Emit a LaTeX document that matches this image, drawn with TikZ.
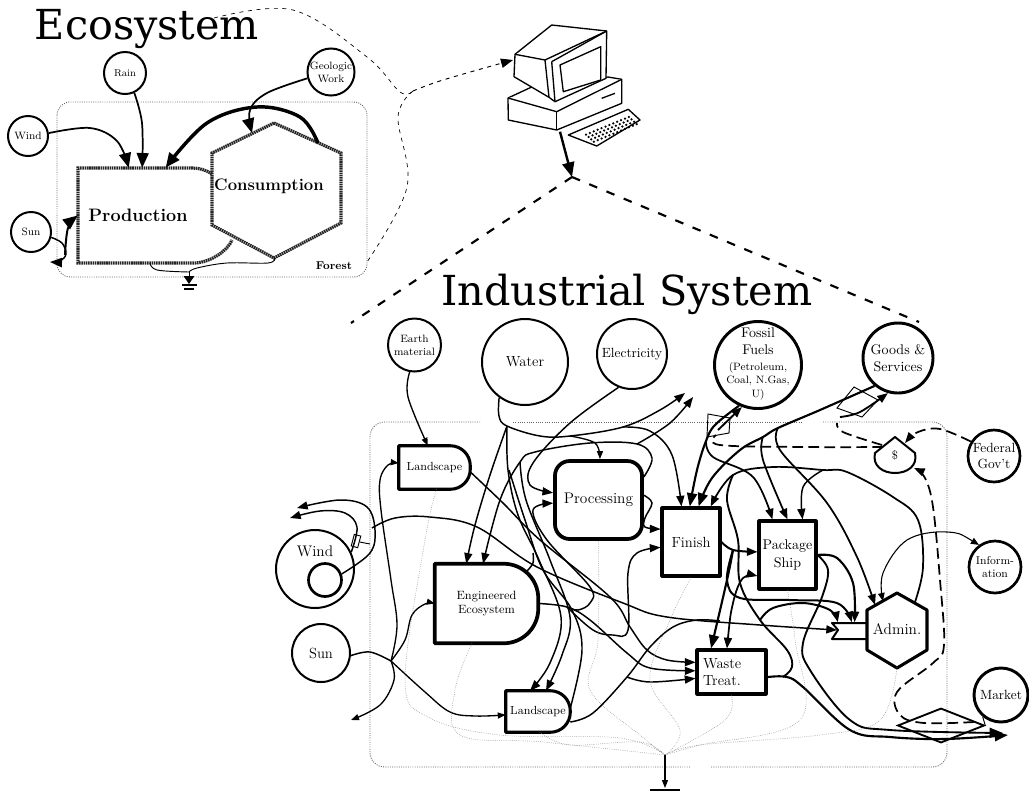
\documentclass[tikz,border=0pt]{standalone}
\usepackage{fontspec}
\newfontfamily\titlefont{DejaVu Serif}
\usetikzlibrary{arrows.meta,shapes.geometric}
\tikzset{
  sz/.style={font=\fontsize{#1}{\fpeval{#1*1.22}}\selectfont},
  bub/.style={circle,draw,line width=1.5pt,inner sep=0pt,align=center,minimum size=#1*0.75pt},
  unitbox/.style 2 args={rectangle,inner sep=0pt,align=center,minimum width=#1*0.75pt,minimum height=#2*0.75pt},
  unitline/.style={line width=2.3pt,line join=round},
  roughline/.style={line width=2.4pt,dash pattern=on 1.2pt off 0.5pt,black!85},
  forestframe/.style={black!60,line width=0.7pt,densely dotted,rounded corners=10pt},
  plantframe/.style={black!60,line width=0.7pt,densely dotted,rounded corners=11pt},
  heatline/.style={black!50,line width=0.4pt,densely dotted},
  flow/.style={line width=1.1pt,-{Triangle[length=8pt,width=6pt]}},
  ecoflow/.style={line width=1.3pt,-{Triangle[length=11pt,width=9pt]}},
  flowplain/.style={line width=1.1pt},
  thickflow/.style={line width=1.6pt,-{Triangle[length=10pt,width=7.5pt]}},
  thinflow/.style={line width=1pt,-{Triangle[length=6pt,width=4.5pt]}},
  money/.style={line width=1.3pt,dash pattern=on 8pt off 4pt,-{Triangle[length=8pt,width=6pt]}},
  linkdash/.style={line width=0.5pt,dash pattern=on 3pt off 3.5pt},
  zoomdash/.style={line width=1.6pt,dash pattern=on 6.5pt off 7.5pt},
  valve/.style={draw,line width=0.7pt},
  pcline/.style={line width=1pt,fill=white,line join=round}
}
\begin{document}
\begin{tikzpicture}[x=0.75pt,y=0.75pt,yscale=-1,every plot/.style={smooth,tension=0.6}]
\useasboundingbox (0,0) rectangle (1029,794);

% Text Node
\node[font=\titlefont\fontsize{31}{36}\selectfont] (ecotitle) at (147,29) {Ecosystem};
\node[font=\titlefont\fontsize{31}{36}\selectfont] (indtitle) at (627,294) {Industrial System};
% Ecosystem, frame and parts
\draw[forestframe] (57,102) rectangle (367,277);
\node[bub=42,sz=7.5] (rain) at (125,73) {Rain};
\node[bub=40,sz=8] (wind) at (28,136) {Wind};
\node[bub=40,sz=8] (sun) at (31,232) {Sun};
\node[bub=46,sz=8] (geo) at (331,72) {Geologic\\Work};
\node[unitbox={120}{95},font=\fontsize{13.5}{16}\selectfont\bfseries] (prod) at (138,215.5) {Production};
\node[unitbox={120}{60},font=\fontsize{12.5}{15}\selectfont\bfseries] (cons) at (269,186) {Consumption};
\node[font=\fontsize{8.5}{10}\selectfont\bfseries] (forest) at (334,266) {Forest};
%Shape: Production
\draw[roughline] (212,174) .. controls (206,170) and (200,168) .. (190,168) -- (78,168) -- (78,263) -- (195,263) .. controls (212,262) and (228,250) .. (232,240);
%Shape: Hexagon
\draw[roughline] (274,123) -- (341,153) -- (341,223) -- (274,258) -- (212,225) -- (212,153) -- cycle;
\coordinate (consin) at (252,133);
\coordinate (consout) at (318,143);
\coordinate (ecojoin) at (189,272);
\coordinate (ecoend) at (189,284);
%Curved Lines
\draw[ecoflow] plot coordinates {(wind.8) (90,128) (117,141) (prod.101)};
\draw[ecoflow] plot coordinates {(rain.-65) (142,123) (prod.85)};
\draw[ecoflow] plot coordinates {(geo.195) (267,93) (250,110) (consin)};
\draw[line width=2.6pt,-{Triangle[length=11pt,width=9pt]}] plot coordinates {(consout) (300,117) (257,107) (207,123) (prod.60)};
\draw[flow,-{Triangle[length=9pt,width=7pt]}] plot coordinates {(sun.-15) (62,243) (66,254) (60,261) (50,262)};
\draw[ecoflow,line width=1.5pt] plot coordinates {(65,255) (68,228) (prod.west)};
\draw[line width=0.7pt] plot coordinates {(150,263) (157,270) (ecojoin)};
\draw[line width=0.7pt] plot coordinates {(275,258) (268,263) (227,263) (197,268) (ecojoin)};
\draw[line width=0.7pt,-{Triangle[length=6pt,width=8pt]}] (ecojoin) -- (ecoend);
\draw[line width=1.5pt] (182,285) -- (197,285);
\draw[line width=1.5pt] (184,289) -- (194,289);

% Links to the computer
\coordinate (linkstart) at (214,18);
\coordinate (linkjoin) at (413,91);
\coordinate (pcin) at (513,60);
\coordinate (apex) at (572,177);
\coordinate (zoomleft) at (351,323);
\coordinate (zoomright) at (919,322);
\draw[linkdash] plot coordinates {(linkstart) (293,10) (367,57) (400,92) (linkjoin)};
\draw[linkdash] plot coordinates {(linkjoin) (398,117) (407,187) (367,262)};
\draw[linkdash,line width=0.7pt,-{Triangle[length=9pt,width=7pt]}] plot coordinates {(linkjoin) (443,80) (pcin)};
\draw[zoomdash] (apex) -- (zoomleft);
\draw[zoomdash] (apex) -- (zoomright);

%Shape: Computer
\draw[pcline] (508,98) -- (531.7,87) -- (608,77) -- (621.7,79.3) -- (621.7,103.3) -- (556.7,130) -- (508.3,120) -- cycle;
\draw[pcline] (508,98) -- (556.7,111.7) -- (621.7,79.3);
\draw[pcline] (556.7,111.7) -- (556.7,130);
\draw[line width=1pt] (601.7,98.3) -- (615,93.3);
\draw[pcline] (515,54.3) -- (551.7,25) -- (606.7,31) -- (606,78.3) -- (555,101.7) -- (549,97.3) -- (514,76.7) -- cycle;
\draw[pcline] (515,54.3) -- (545,60) -- (606.7,31);
\draw[pcline] (545,60) -- (549,97.3);
\draw[pcline] (551.7,61.7) -- (606.7,31);
\draw[pcline] (551.7,61.7) -- (555,101.7);
\draw[pcline] (560,65) -- (600.7,46.7) -- (600.7,80) -- (563.3,91.7) -- cycle;
\draw[pcline] (568.3,135) -- (628.3,109.3) -- (640,120) -- (596.7,146) -- cycle;
\foreach \i in {0,...,11}
  \foreach \j in {0,...,3}
    \fill ({586+\i*3.9+\j*2.6},{134.5-\i*1.6+\j*2.4}) circle [radius=1.25];
\draw[line width=1.8pt,-{Triangle[length=11pt,width=9pt]}] (560,131.7) -- (apex);

% Industrial plant frame
\draw[plantframe] (513,422) -- (803,422);
\draw[plantframe] (823,422) -- (947,422) -- (947,767) -- (710,767);
\draw[plantframe] (690,767) -- (370,767) -- (370,422) -- (480,422);

% Text Node
\node[bub=53,sz=8] (earth) at (414.5,345) {Earth\\material};
\node[bub=86,sz=11] (water) at (525,362) {Water};
\node[bub=70,sz=10] (elec) at (632,354) {Electricity};
\node[bub=87,line width=2.2pt] (fossil) at (758,365) {};
\node[align=center,inner sep=0pt,font=\fontsize{10.5}{12.75}\selectfont] (fossiltext) at (758,364) {Fossil\\Fuels\\[-1pt]{\fontsize{8}{9.75}\selectfont(Petroleum,}\\[-2.5pt]{\fontsize{8}{9.75}\selectfont Coal, N.Gas,}\\[-2.5pt]{\fontsize{8}{9.75}\selectfont U)}};
\node[bub=70,line width=2.2pt,sz=10.5] (goods) at (898,358) {Goods \&\\Services};
\node[bub=52,line width=2pt,sz=10] (federal) at (994,456) {Federal\\Gov't};
\node[bub=52,line width=2pt,sz=8.5] (info) at (995,567) {Inform-\\ation};
\node[bub=54,line width=2.2pt,sz=10] (market) at (1001,695) {Market};
\node[bub=78,sz=11.5,text depth=26pt] (windb) at (315,569) {Wind};
\node[bub=33,line width=2pt] (windc) at (325,580) {};
\node[bub=58,sz=11] (sunb) at (321,653) {Sun};
\node[unitbox={71}{43},sz=8.8] (landa) at (434.5,467.5) {Landscape};
\node[unitbox={103}{79},sz=9] (enga) at (486.5,603.5) {Engineered\\Ecosystem};
\node[unitbox={64}{41},sz=8.8] (landb) at (538,711.5) {Landscape};
\node[unitbox={87}{78},draw,line width=2.8pt,rounded corners=11pt,sz=11.5] (proc) at (598.5,500) {Processing};
\node[unitbox={58}{68},draw,unitline,sz=11] (finish) at (691,542) {Finish};
\node[unitbox={57}{68},draw,unitline,sz=10.5] (pack) at (787.5,555) {Package\\Ship};
\node[rectangle,draw,unitline,inner ysep=0pt,inner xsep=4.5pt,text width=42.75pt,minimum height=33pt,align=left,sz=11] (waste) at (731.5,672) {Waste\\Treat.};
\node[unitbox={60}{76},sz=11.5] (admin) at (897,629) {Admin.};
\node[unitbox={35}{17}] (notch) at (849.5,631) {};
\node[unitbox={40}{36},sz=9] (dollar) at (895,455) {\$};
\node[diamond,draw,line width=1.4pt,inner sep=0pt,minimum width=65pt,minimum height=26pt,aspect=2.5] (marketd) at (941,725.5) {};
\node[valve,rectangle,rotate=-15,inner sep=0pt,minimum width=5pt,minimum height=9pt] (windvalve) at (356,541) {};

%Shape: unit outlines
\draw[unitline] (landa.north west) [rounded corners=15pt] -- (landa.north east) -- (landa.south east) [sharp corners] -- (landa.south west) -- cycle;
\draw[line width=2.8pt,line join=round] (enga.north west) [rounded corners=26pt] -- (enga.north east) -- (enga.south east) [sharp corners] -- (enga.south west) -- cycle;
\draw[unitline] (landb.north west) [rounded corners=15pt] -- (landb.north east) -- (landb.south east) [sharp corners] -- (landb.south west) -- cycle;
\draw[unitline] (897,593) -- (927,610) -- (927,650) -- (897,668) -- (867,650) -- (867,610) -- cycle;
\draw[line width=1.5pt,line join=round] (867,623) -- (832,623) -- (838,630) -- (832,639) -- (867,639);
\draw[line width=1.5pt,line join=round] (895,437) -- (915,453) .. controls (918,466) and (907,473) .. (895,473) .. controls (883,473) and (872,466) .. (875,453) -- cycle;
\draw[valve] (708,414) -- (730,418) -- (729,433) -- (707,437) -- cycle;
\draw[valve] (854,387) -- (878,400) -- (862,417) -- (837,408) -- cycle;

% Named ends
\coordinate (sunjoin) at (391,661);
\coordinate (sunout) at (351,720);
\coordinate (windouta) at (297,508);
\coordinate (windoutb) at (290,518);
\coordinate (windjoin) at (372,528);
\coordinate (notchin) at (837,630);
\coordinate (waterjoina) at (507,426);
\coordinate (waterjoinb) at (570,436);
\coordinate (waterjoinc) at (623,427);
\coordinate (wateroutb) at (685,393);
\coordinate (procjoin) at (637,444);
\coordinate (procouta) at (693,397);
\coordinate (procjoinb) at (520,462);
\coordinate (engjoin) at (567,607);
\coordinate (landjoin) at (627,677);
\coordinate (finjoin) at (733,550);
\coordinate (fossjoin) at (706,441);
\coordinate (goodjoina) at (778,428);
\coordinate (goodjoinb) at (763,437);
\coordinate (adminjoin) at (823,470);
\coordinate (adminjoinb) at (733,475);
\coordinate (adminout) at (915,602);
\coordinate (adminin) at (875,605);
\coordinate (admininb) at (883,601);
\coordinate (fossvalve) at (718,430);
\coordinate (goodsvalve) at (840,417);
\coordinate (wasteouta) at (1008,735);
\coordinate (packout) at (1003,733);
\coordinate (moneyfed) at (905,443);
\coordinate (moneyleft) at (883,447);
\coordinate (moneyup) at (882,445);
\coordinate (moneyin) at (914,468);
\coordinate (moneystart) at (974,722);
\coordinate (heatjoin) at (665,755);
\coordinate (heatend) at (665,788);

%Curved Lines: sun and wind
\draw[flowplain] plot coordinates {(sunb.-5) (370,652) (sunjoin)};
\draw[thinflow] plot coordinates {(sunjoin) (405,640) (412,615) (425,604) (enga.west)};
\draw[thinflow] plot coordinates {(sunjoin) (397,625) (391,580) (381,510) (380,480) (388,465) (landa.173)};
\draw[thinflow] plot coordinates {(sunjoin) (425,692) (450,712) (475,716) (landb.186)};
\draw[thinflow] plot coordinates {(sunjoin) (394,680) (380,705) (sunout)};
\draw[flow] plot coordinates {(windc.20) (370,553) (375,530) (367,507) (340,500) (windouta)};
\draw[flow] plot coordinates {(windb.25) (357,527) (345,513) (320,511) (windoutb)};
\draw[line width=0.7pt] (windvalve.east) -- (370,544);
\draw[flow] plot coordinates {(windjoin) (395,518) (430,517) (477,527) (537,567) (623,603) (667,617) (760,625) (notchin)};

%Curved Lines: earth and water
\draw[thinflow] plot coordinates {(earth.-100) (408,397) (landa.107)};
\draw[flow] plot coordinates {(landa.-7) (503,503) (540,540) (610,597) (630,627) (647,650) (667,660) (waste.165)};
\draw[flow] plot coordinates {(water.-126) (499,416) (waterjoina) (540,436) (waterjoinb) (waterjoinc) (660,410) (wateroutb)};
\draw[thinflow] plot coordinates {(waterjoinb) (595,443) (proc.88)};
\draw[flow] plot coordinates {(waterjoinc) (650,431) (672,455) (finish.105)};
\draw[flow] plot coordinates {(waterjoina) (490,475) (475,525) (enga.117)};
\draw[flow] plot coordinates {(waterjoina) (508,470) (518,515) (539,560) (561,617) (550,663) (landb.111)};
\draw[flow] plot coordinates {(procjoinb) (526,500) (550,560) (570,617) (562,655) (landb.69)};
\draw[flowplain] plot coordinates {(509,470) (525,520) (543,570) (572,610) (582,650) (landb.6)};
\draw[flowplain] plot coordinates {(533,553) (533,563) (527,571)};
\draw[flow] plot coordinates {(proc.27) (652,458) (procjoin) (590,443) (535,452) (procjoinb) (500,500) (enga.95)};
\draw[flow] plot coordinates {(procjoin) (670,423) (procouta)};
\draw[flow] plot coordinates {(elec.-112) (570,423) (533,463) (530,485) (proc.171)};
\draw[flow] plot coordinates {(engjoin) (578,610) (590,603) (590,587) (547,540) (533,510) (proc.184)};
\draw[flow] plot coordinates {(enga.east) (engjoin) (590,620) (627,653) (650,668) (waste.178)};
\draw[flow] plot coordinates {(engjoin) (593,630) (613,635) (628,630) (628,573) (637,553) (finish.190)};
\draw[flow] plot coordinates {(proc.6) (652,503) (645,518) (645,527) (finish.157)};

%Curved Lines: landscape, finish, package
\draw[flowplain] plot coordinates {(landb.-18) (593,713) (landjoin) (650,647) (673,627) (697,620) (720,621)};
\draw[flow] plot coordinates {(landjoin) (650,682) (waste.190)};
\draw[flow,line width=1.5pt] plot coordinates {(760,620) (773,608) (803,603) (830,610) (notch.143)};
\draw[flow,line width=1.5pt] plot coordinates {(finish.east) (finjoin) (pack.174)};
\draw[flow,line width=1.5pt] plot coordinates {(finjoin) (727,580) (740,598) (790,600) (837,603) (notch.75)};
\draw[thickflow] plot coordinates {(finjoin) (727,580) (waste.131)};
\draw[{Triangle[length=8pt,width=6pt]}-{Triangle[length=8pt,width=6pt]},line width=1.3pt] plot coordinates {(waste.101) (733,603) (743,578) (pack.215)};
\draw[line width=1.4pt] plot coordinates {(adminjoinb) (727,500) (738,540) (740,583) (760,620) (787,650) (792,667) (783,677)};
\draw[thickflow] plot coordinates {(waste.-8) (787,677) (803,687) (850,730) (890,737) (945,739) (wasteouta)};
\draw[thickflow,line width=1.4pt] plot coordinates {(pack.east) (828,570) (822,597) (803,643) (810,670) (850,720) (890,730) (packout)};
\draw[flow,line width=1.6pt] plot coordinates {(pack.east) (837,558) (853,583) (notch.60)};

%Curved Lines: fuels, goods, admin
\draw[thickflow] plot coordinates {(fossil.-115) (715,425) (fossjoin) (697,470) (finish.92)};
\draw[thickflow] plot coordinates {(goods.-130) (820,410) (goodjoina) (goodjoinb) (740,450) (712,478) (finish.78)};
\draw[flow,line width=1.3pt] plot coordinates {(adminout) (923,567) (918,520) (893,497) (847,472) (adminjoin) (773,467) (adminjoinb) (finish.61)};
\draw[flow] plot coordinates {(adminjoin) (803,487) (pack.67)};
\draw[flow,line width=1.3pt] plot coordinates {(fossjoin) (713,457) (753,477) (pack.113)};
\draw[flow,line width=1.3pt] plot coordinates {(goodjoinb) (763,460) (pack.90)};
\draw[flow,line width=1.3pt] plot coordinates {(goodjoina) (780,450) (827,503) (857,557) (adminin)};
\draw[{Triangle[length=6pt,width=5pt]}-{Triangle[length=6pt,width=5pt]},line width=0.8pt] plot coordinates {(info.126) (947,532) (907,540) (883,573) (admininb)};
\draw[flow,line width=1.4pt] (fossvalve) -- (fossil.-111);
\draw[flow,line width=1.4pt] plot coordinates {(goodsvalve) (860,412) (goods.-106)};

%Dashed Lines: money
\draw[money] plot coordinates {(federal.148) (940,429) (918,432) (moneyfed)};
\draw[money,-] plot coordinates {(moneyleft) (807,447) (720,445) (716,435)};
\draw[money,-] plot coordinates {(moneyup) (843,432) (837,423)};
\draw[money] plot coordinates {(moneystart) (924,723) (900,715) (897,692) (933,663) (944,645) (940,580) (933,507) (925,478) (moneyin)};
\draw[line width=0.7pt] (market.-130) -- (marketd.east);

%Curved Lines: heat
\draw[heatline] plot coordinates {(landa.-85) (425,540) (405,680) (428,717) (500,735) (620,738) (heatjoin)};
\draw[heatline] plot coordinates {(enga.-110) (455,690) (460,735) (543,742) (heatjoin)};
\draw[heatline] plot coordinates {(landb.-85) (570,745) (640,742) (heatjoin)};
\draw[heatline] plot coordinates {(proc.-90) (598,640) (590,690) (640,735) (heatjoin)};
\draw[heatline] plot coordinates {(finish.south) (670,620) (650,680) (680,730) (heatjoin)};
\draw[heatline] plot coordinates {(waste.south) (725,720) (heatjoin)};
\draw[heatline] plot coordinates {(pack.south) (795,640) (800,720) (700,745) (heatjoin)};
\draw[heatline] plot coordinates {(admin.south) (880,720) (820,735) (700,745) (heatjoin)};
\draw[thinflow,line width=0.8pt] (heatjoin) -- (heatend);
\draw[line width=0.8pt] (650,790) -- (680,790);

\end{tikzpicture}
\end{document}
